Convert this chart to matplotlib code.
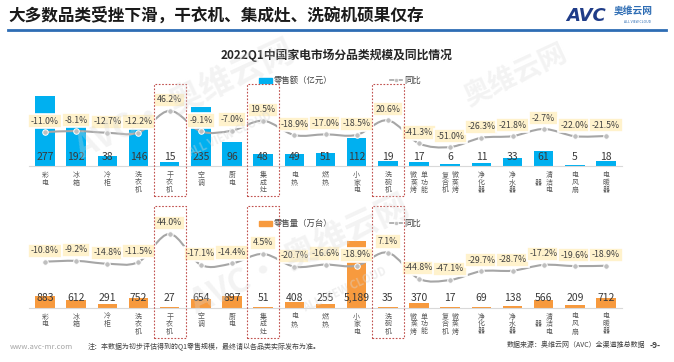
import numpy as np
import matplotlib
matplotlib.use('Agg')
import matplotlib.pyplot as plt
import matplotlib.transforms as mtransforms
from matplotlib.path import Path
from matplotlib.patches import PathPatch, Rectangle
from matplotlib.lines import Line2D

plt.rcParams['font.family'] = ['Noto Sans CJK SC', 'DejaVu Sans']

categories = ['彩电', '冰箱', '冷柜', '洗衣机', '干衣机', '空调', '厨电', '集成灶', '电热', '燃热',
              '小家电', '洗碗机', '单功能微蒸烤', '微蒸烤复合机', '净化器', '净水器', '清洁电器',
              '电风扇', '电暖器']
sales_value = [277, 192, 38, 146, 15, 235, 96, 48, 49, 51, 112, 19, 17, 6, 11, 33, 61, 5, 18]       # 亿元
sales_value_yoy = [-11.0, -8.1, -12.7, -12.2, 46.2, -9.1, -7.0, 19.5, -18.9, -17.0, -18.5, 20.6,
                   -41.3, -51.0, -26.3, -21.8, -2.7, -22.0, -21.5]
sales_volume = [883, 612, 291, 752, 27, 654, 897, 51, 408, 255, 5189, 35, 370, 17, 69, 138, 566, 209, 712]  # 万台
sales_volume_yoy = [-10.8, -9.2, -14.8, -11.5, 44.0, -17.1, -14.4, 4.5, -20.7, -16.6, -18.9, 7.1,
                    -44.8, -47.1, -29.7, -28.7, -17.2, -19.6, -18.9]
highlight = ['干衣机', '集成灶', '洗碗机']

W, H = 674, 362
fig = plt.figure(figsize=(W / 100, H / 100), dpi=100)


def fx(x):
    return x / W


def fy(y):
    return 1 - y / H


def pt(px):
    return px * 0.72


def smooth_path(xs, ys):
    # excel style smoothed line (catmull-rom as bezier)
    n = len(xs)
    verts = [(xs[0], ys[0])]
    codes = [Path.MOVETO]
    for i in range(n - 1):
        a, b = max(i - 1, 0), min(i + 2, n - 1)
        c1 = (xs[i] + (xs[i + 1] - xs[a]) / 6, ys[i] + (ys[i + 1] - ys[a]) / 6)
        c2 = (xs[i + 1] - (xs[b] - xs[i]) / 6, ys[i + 1] - (ys[b] - ys[i]) / 6)
        verts += [c1, c2, (xs[i + 1], ys[i + 1])]
        codes += [Path.CURVE4] * 3
    return Path(verts, codes)


step = 31.17
left_px, right_px = 45 - step / 2, 606 + step / 2


def panel(base, top, px_unit, zero, px_pct, values, yoy, color, legend_text, legend_y, box):
    ax = fig.add_axes([fx(left_px), fy(base), (right_px - left_px) / W, (base - top) / H])
    x = np.arange(len(categories))
    ax.set_xlim(-0.5, len(categories) - 0.5)
    ax.set_ylim(0, (base - top) / px_unit)
    ax.bar(x, values, width=0.63, color=color, zorder=2)
    for s in ['top', 'left', 'right']:
        ax.spines[s].set_visible(False)
    ax.spines['bottom'].set_color('#D9D9D9')
    ax.set_xticks([])
    ax.set_yticks([])
    ax.patch.set_alpha(0)

    for i, v in enumerate(values):
        ax.annotate(f'{v:,}', (i, 0), xytext=(0, pt(9.5)), textcoords='offset points',
                    ha='center', va='center', fontsize=7.5, color='#3A3A3A', zorder=5)

    # category labels, stacked vertically, 3 chars a column, right to left
    for i, name in enumerate(categories):
        cols = [name[k:k + 3] for k in range(0, len(name), 3)]
        m = max(len(c) for c in cols)
        nc = len(cols)
        for ci, col in enumerate(cols):
            j = nc - 1 - ci
            dx = (j - (nc - 1) / 2) * 10.5
            for k, ch in enumerate(col):
                dy = 9 + (m - len(col)) * 7.5 / 2 + k * 7.5
                ax.annotate(ch, (i, 0), xytext=(pt(dx), -pt(dy)), textcoords='offset points',
                            ha='center', va='center', fontsize=5, color='#595959',
                            annotation_clip=False)

    ax2 = ax.twinx()
    ax2.set_ylim(-(base - zero) / px_pct, (zero - top) / px_pct)
    ax2.axis('off')
    ax2.add_patch(PathPatch(smooth_path(x, yoy), fill=False, ec='#A6A6A6', lw=1.5, zorder=3))
    ax2.plot(x, yoy, 'o', ms=4, mfc='#BFBFBF', mec='white', mew=0.7, zorder=4)
    for i, v in enumerate(yoy):
        ax2.annotate(f'{v:.1f}%', (i, v), xytext=(0, pt(11)), textcoords='offset points',
                     ha='center', va='center', fontsize=6.3, color='#404040', zorder=6,
                     bbox=dict(boxstyle='square,pad=0.3', fc='#FFF2CC', ec='white', lw=1.2))

    # highlight boxes
    tr = mtransforms.blended_transform_factory(ax.transData, fig.transFigure)
    for name in highlight:
        i = categories.index(name)
        r = Rectangle((i - 0.51, fy(box[1])), 1.02, fy(box[0]) - fy(box[1]), transform=tr,
                      fill=False, ec='#C0504D', lw=0.8, ls=(0, (1.5, 1.5)), clip_on=False, zorder=7)
        fig.add_artist(r)

    # legend
    fig.add_artist(Rectangle((fx(259), fy(legend_y + 2.5)), 13 / W, 5 / H, color=color,
                             transform=fig.transFigure))
    fig.text(fx(274), fy(legend_y), legend_text, fontsize=6, color='#404040', va='center')
    fig.add_artist(Line2D([fx(390), fx(402)], [fy(legend_y)] * 2, color='#A6A6A6', lw=1.2,
                          transform=fig.transFigure))
    fig.add_artist(Line2D([fx(396)], [fy(legend_y)], marker='o', ms=3, mfc='#BFBFBF', mec='white',
                          mew=0.5, transform=fig.transFigure))
    fig.text(fx(404), fy(legend_y), '同比', fontsize=6, color='#404040', va='center')
    return ax


panel(166, 84, 0.2527, 128.0, 0.373, sales_value, sales_value_yoy, '#00B0F0',
      '零售额（亿元）', 80, (84, 196))
panel(307.5, 215, 0.0128, 256.2, 0.505, sales_volume, sales_volume_yoy, '#F79A3E',
      '零售量（万台）', 223, (206, 338))

# header
fig.text(fx(8), fy(16), '大多数品类受挫下滑，干衣机、集成灶、洗碗机硕果仅存', fontsize=12,
         fontweight='bold', color='#1A1A1A', va='center')
fig.add_artist(Line2D([fx(8), fx(666)], [fy(29.5)] * 2, color='#2E6DB4', lw=2,
                      transform=fig.transFigure))
fig.text(fx(566), fy(16), 'AVC', fontsize=13, fontweight='bold', style='italic', color='#1F3C88',
         va='center', family='DejaVu Sans')
fig.text(fx(614), fy(12), '奥维云网', fontsize=7, fontweight='bold', color='#2E6DB4', va='center')
fig.text(fx(624), fy(22), 'ALL VIEW CLOUD', fontsize=2.5, color='#2E6DB4', va='center')
fig.text(fx(337), fy(55), '2022Q1中国家电市场分品类规模及同比情况', fontsize=8.5,
         fontweight='bold', color='#262626', ha='center', va='center')

# watermarks
for (wx, wy, s) in [(185, 100, 24), (300, 255, 24)]:
    fig.text(fx(wx), fy(wy), 'AVC• 奥维云网', fontsize=s, fontweight='bold', color='#D9D9D9',
             alpha=0.3, rotation=25, ha='center', va='center', zorder=10)
    fig.text(fx(wx + 45), fy(wy + 35), 'ALL VIEW CLOUD', fontsize=8, fontweight='bold',
             color='#D9D9D9', alpha=0.4, rotation=25, ha='center', va='center', zorder=10)
fig.text(fx(515), fy(75), '奥维云网', fontsize=20, fontweight='bold', color='#D9D9D9',
         alpha=0.3, rotation=25, ha='center', va='center', zorder=10)

# footer
fig.text(fx(10), fy(347), 'www.avc-mr.com', fontsize=5.5, color='#A6A6A6', va='center')
fig.text(fx(88), fy(347), '注：本数据为初步评估得到的Q1零售规模，最终请以各品类实际发布为准。',
         fontsize=5, color='#404040', va='center')
fig.text(fx(645), fy(345), '数据来源：奥维云网（AVC）全渠道推总数据', fontsize=5, color='#404040',
         va='center', ha='right')
fig.text(fx(650), fy(345), '-9-', fontsize=6, fontweight='bold', color='#404040', va='center')

fig.savefig('out.png', dpi=100)
